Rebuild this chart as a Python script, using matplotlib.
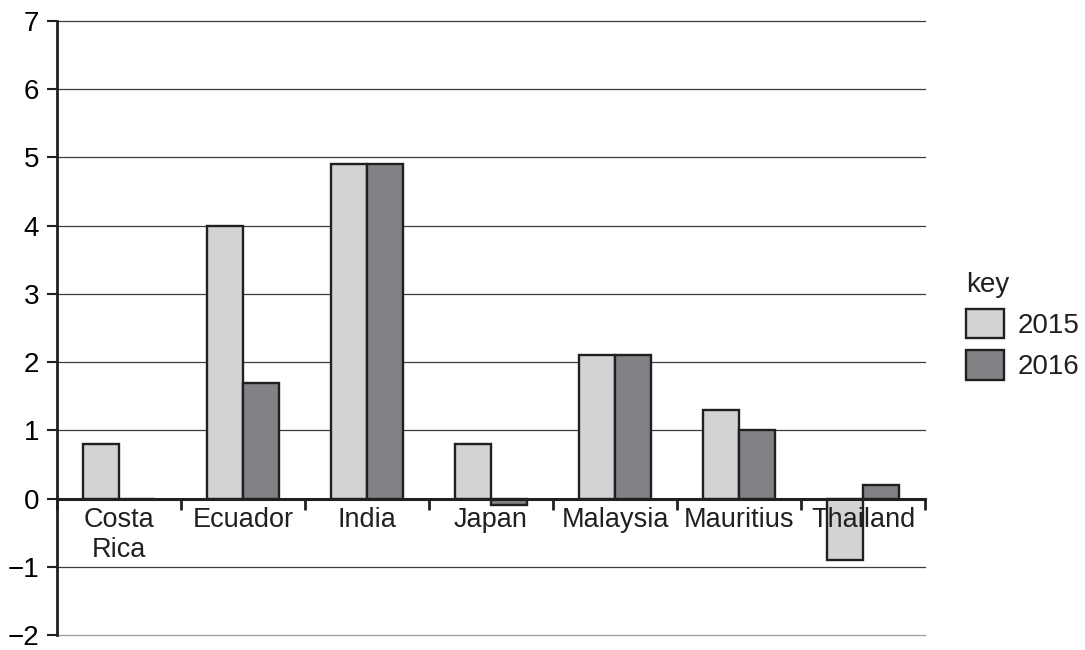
import matplotlib.pyplot as plt
import numpy as np
from matplotlib.patches import Patch

plt.rcParams['font.family'] = ['Liberation Sans', 'DejaVu Sans']

countries = ["Costa\nRica", "Ecuador", "India", "Japan", "Malaysia", "Mauritius", "Thailand"]
years = ["2015", "2016"]
vals_2015 = [0.8, 4.0, 4.9, 0.8, 2.1, 1.3, -0.9]
vals_2016 = [0.0, 1.7, 4.9, -0.1, 2.1, 1.0, 0.2]
yticks = [-2, -1, 0, 1, 2, 3, 4, 5, 6, 7]

light = "#d1d3d4"
dark = "#808285"
edge = "#231f20"

fig = plt.figure(figsize=(10.85, 6.5), dpi=100)
ax = fig.add_axes([57 / 1085, 15 / 650, 868 / 1085, 614 / 650])

x = np.arange(len(countries)) + 0.5
w = 0.29
ax.bar(x - w / 2, vals_2015, w, color=light, edgecolor=edge, linewidth=1.7, zorder=3)
ax.bar(x + w / 2, vals_2016, w, color=dark, edgecolor=edge, linewidth=1.7, zorder=3)

ax.set_xlim(0, len(countries))
ax.set_ylim(-2, 7)
ax.set_yticks(yticks)
ax.set_yticklabels([str(t).replace("-", "\u2212") for t in yticks], fontsize=20)
ax.yaxis.grid(True, color="#3c3c3c", linewidth=0.9)
ax.set_axisbelow(True)
gls = ax.yaxis.get_gridlines()
for gl in gls:
    gl.set_clip_on(False)
gls[0].set_color("#9a9a9a")
ax.tick_params(axis="y", length=7, width=1.5, color=edge, pad=6)

ax.spines["top"].set_visible(False)
ax.spines["right"].set_visible(False)
ax.spines["left"].set_linewidth(2)
ax.spines["left"].set_color(edge)
ax.spines["bottom"].set_position(("data", 0))
ax.spines["bottom"].set_linewidth(2.2)
ax.spines["bottom"].set_color(edge)
ax.spines["bottom"].set_zorder(4)

# category boundaries as ticks, names drawn as text above the bars
ax.set_xticks([])
ax.set_xticks(np.arange(len(countries) + 1), minor=True)
ax.tick_params(axis="x", which="minor", length=8, width=2, color=edge, direction="out")
for xi, name in zip(x, countries):
    ax.text(xi, -0.12, name, ha="center", va="top", fontsize=19.5,
            linespacing=1.2, color="#231f20", zorder=5)

handles = [Patch(facecolor=light, edgecolor=edge, linewidth=1.7),
           Patch(facecolor=dark, edgecolor=edge, linewidth=1.7)]
leg = fig.legend(handles, years, title="key", loc="upper left",
                 bbox_to_anchor=(966 / 1085, 1 - 272 / 650), frameon=False,
                 borderpad=0, borderaxespad=0,
                 fontsize=20, title_fontsize=20, handlelength=1.35, handleheight=1.25,
                 handletextpad=0.5, labelspacing=0.4)
leg._legend_box.align = "left"
for t in leg.get_texts():
    t.set_color("#231f20")
leg.get_title().set_color("#231f20")

fig.savefig("out.png", dpi=100)
